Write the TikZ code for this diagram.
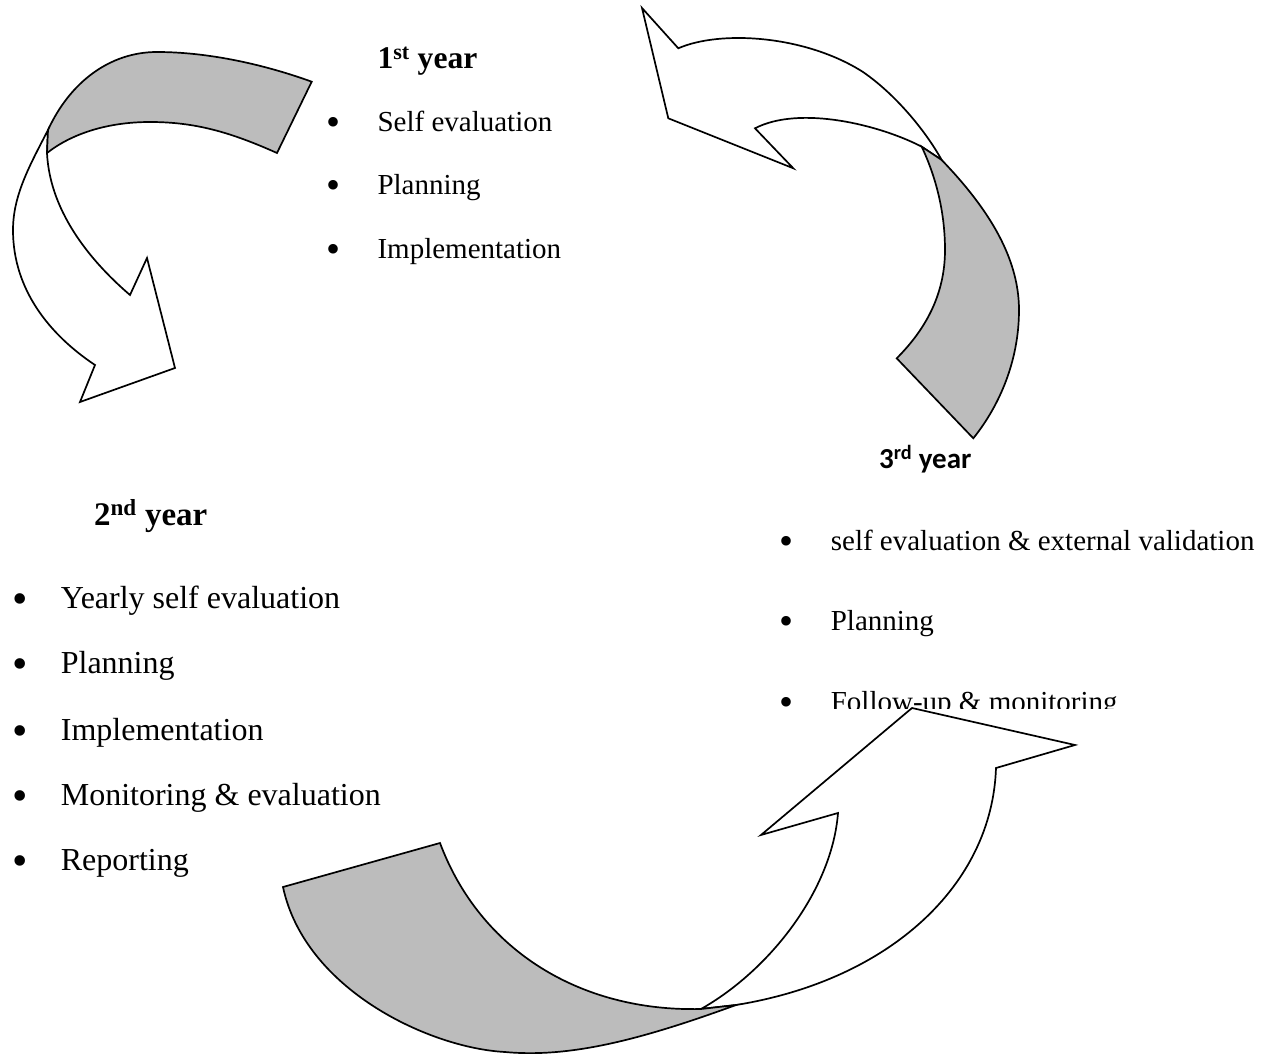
\documentclass[tikz,border=0pt]{standalone}
\usepackage{fontspec}
\setmainfont{Liberation Serif}
\newfontfamily\calibri{Carlito}
\definecolor{shade}{RGB}{188,188,188}

\begin{document}
\begin{tikzpicture}[x=1pt, y=-1pt, line width=1.7pt,
  txtsmall/.style={anchor=base west, inner sep=0pt, font=\fontsize{29}{35}\selectfont},
  txtbig/.style={anchor=base west, inner sep=0pt, font=\fontsize{32}{38}\selectfont},
  bulsmall/.style={anchor=base, inner sep=0pt, yshift=-4pt, font=\fontsize{40}{40}\selectfont},
  bulbig/.style={anchor=base, inner sep=0pt, yshift=-5pt, font=\fontsize{44}{44}\selectfont}]
\useasboundingbox (0,0) rectangle (1270,1054);

\node [txtsmall, font=\bfseries\fontsize{31.6}{38}\selectfont] (first) at (376.7,68.3) {1\textsuperscript{st} year};
\node [bulsmall] (bsevalone) at (333,131.7) {\textbullet};
\node [txtsmall] (sevalone) at (376.7,131.7) {Self evaluation};
\node [bulsmall] (bplanone) at (333,195) {\textbullet};
\node [txtsmall] (planone) at (376.7,195) {Planning};
\node [bulsmall] (bimplone) at (333,258.3) {\textbullet};
\node [txtsmall] (implone) at (376.7,258.3) {Implementation};

\node [txtbig, font=\bfseries\fontsize{33}{40}\selectfont] (second) at (93.3,525) {2\textsuperscript{nd} year};
\node [bulbig] (byearlytwo) at (20,608.3) {\textbullet};
\node [txtbig] (yearlytwo) at (60,608.3) {Yearly self evaluation};
\node [bulbig] (bplantwo) at (20,673.3) {\textbullet};
\node [txtbig] (plantwo) at (60,673.3) {Planning};
\node [bulbig] (bimpltwo) at (20,740) {\textbullet};
\node [txtbig] (impltwo) at (60,740) {Implementation};
\node [bulbig] (bmontwo) at (20,805) {\textbullet};
\node [txtbig] (montwo) at (60,805) {Monitoring \& evaluation};
\node [bulbig] (breptwo) at (20,870) {\textbullet};
\node [txtbig] (reptwo) at (60,870) {Reporting};

\node [txtsmall, font=\calibri\bfseries\fontsize{29}{35}\selectfont] (third) at (878.3,468.3) {3\textsuperscript{rd} year};
\node [bulsmall] (bsevalthree) at (786.7,550) {\textbullet};
\node [txtsmall] (sevalthree) at (830,550) {self evaluation \& external validation};
\node [bulsmall] (bplanthree) at (786.7,630) {\textbullet};
\node [txtsmall] (planthree) at (830,630) {Planning};
\begin{scope}
\clip (700,600) rectangle (1270,708);
\node [bulsmall] (bfollowthree) at (786.7,711) {\textbullet};
\node [txtsmall] (followthree) at (830,711) {Follow-up \& monitoring};
\end{scope}

\draw [fill=white] (48,130) .. controls (30,165) and (13,195) .. (13,230) .. controls (13,290) and (50,335) .. (95,365) -- (80,402) -- (175,368) -- (147,258) -- (130,295) .. controls (95,265) and (50,215) .. (47,153) -- cycle;
\draw [fill=shade] (48,130) .. controls (70,82) and (110,52) .. (157,52) .. controls (205,52) and (260,63) .. (311.7,81.7) -- (277,153) .. controls (230,132) and (195,122) .. (150,122) .. controls (105,122) and (70,135) .. (47,153) -- cycle;

\draw [fill=white] (642,8) -- (678.3,48.3) .. controls (720,30) and (805,35) .. (863,72) .. controls (895,94) and (925,130) .. (941.7,160) -- (921.7,146.7) .. controls (880,125) and (800,105) .. (755,128.3) -- (793.3,168.3) -- (668.3,118.3) -- cycle;
\draw [fill=shade] (921.7,146.7) -- (941.7,160) .. controls (985,205) and (1019,255) .. (1019,310) .. controls (1019,360) and (1000,405) .. (973.3,438.3) -- (896.7,358.3) .. controls (925,330) and (945,295) .. (945,250) .. controls (945,210) and (935,175) .. (921.7,146.7) -- cycle;

\draw [fill=white] (701,1009) .. controls (770,970) and (832,890) .. (838,813) -- (761,835) -- (912,708) -- (1075,745) -- (996,768) .. controls (992,885) and (890,980) .. (736,1005) -- cycle;
\draw [fill=shade] (283,887) -- (440,843) .. controls (480,950) and (580,1012) .. (701,1009) -- (736,1005) .. controls (640,1040) and (570,1058) .. (505,1052) .. controls (430,1048) and (305,990) .. (283,887) -- cycle;
\end{tikzpicture}
\end{document}
